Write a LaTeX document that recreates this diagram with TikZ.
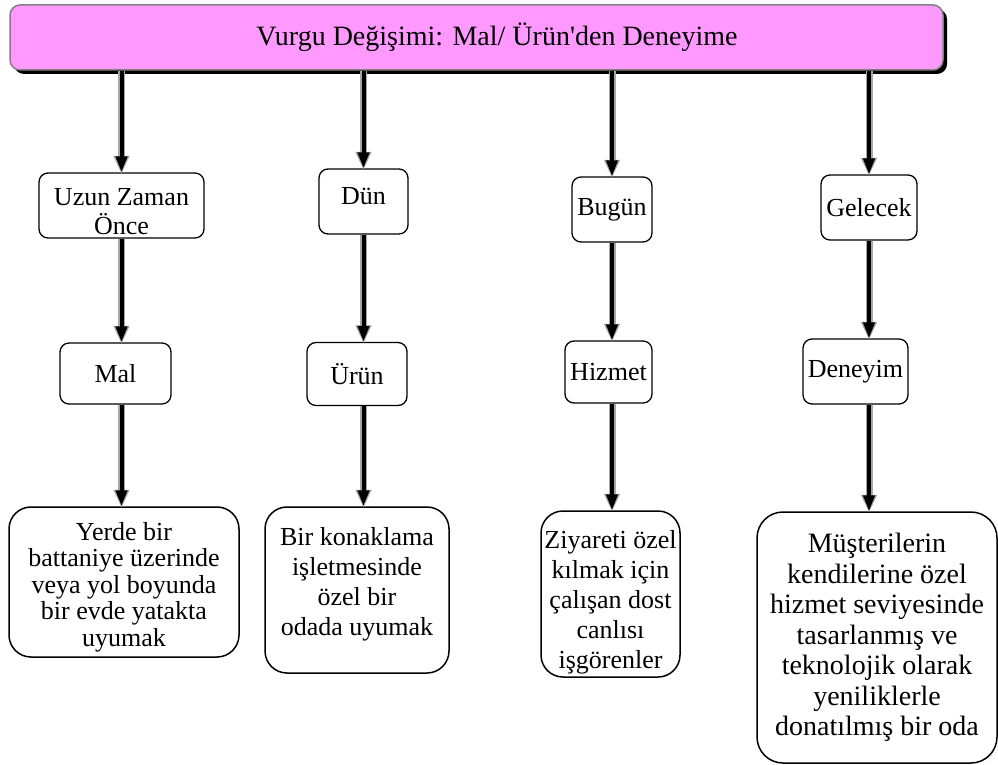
\documentclass[tikz,border=0pt]{standalone}
\usepackage{fontspec}
\setmainfont{Liberation Serif}
\usetikzlibrary{arrows.meta,shadows}
\definecolor{titlepink}{RGB}{255,153,255}
\tikzset{
	stage/.style={draw, line width=1.3pt, rounded corners=9pt, inner sep=2pt, align=center, font=\fontsize{26}{29}\selectfont},
	example/.style={draw, line width=1.5pt, rounded corners=22pt, inner sep=4pt, align=center, font=\fontsize{26}{30}\selectfont},
	flow/.style={line width=4pt, -{Triangle[length=16pt,width=11pt]},
		preaction={draw=gray!70, line width=7pt, shorten >=-1.5pt, -{Triangle[length=18pt,width=15pt]}}},
}
\begin{document}
\begin{tikzpicture}[x=1pt, y=-1pt]
	\useasboundingbox (0,0) rectangle (998,765);
	% Title
	\node[draw=gray, line width=1.5pt, fill=titlepink, rounded corners=10pt, minimum width=933pt, minimum height=65pt,
		drop shadow={shadow xshift=4pt, shadow yshift=-4pt, fill=black, opacity=1},
		font=\fontsize{28}{30}\selectfont] (title) at (476.5,37.5) {\hspace*{41pt}Vurgu Değişimi: Mal/ Ürün\textquotesingle den Deneyime};
	% Periods
	\node[stage, minimum width=165pt, minimum height=65pt] (uzun) at (121.5,205.5) {\rule{0pt}{30pt}Uzun Zaman\\Önce};
	\node[stage, minimum width=89pt, minimum height=65pt] (dun) at (363.5,201.5) {Dün\rule[-12pt]{0pt}{0pt}};
	\node[stage, minimum width=80pt, minimum height=65pt] (bugun) at (612,209.5) {Bugün};
	\node[stage, minimum width=96pt, minimum height=65pt] (gelecek) at (869,207.5) {Gelecek};
	% Offers
	\node[stage, minimum width=111pt, minimum height=61pt] (mal) at (115.5,373.5) {Mal};
	\node[stage, minimum width=100pt, minimum height=63pt] (urun) at (357,374) {Ürün};
	\node[stage, minimum width=87pt, minimum height=62pt] (hizmet) at (608.5,372) {Hizmet};
	\node[stage, minimum width=105pt, minimum height=65pt] (deneyim) at (855.5,371.5) {Deneyim};
	% Examples
	\node[example, inner sep=0pt, font=\fontsize{26}{26.5}\selectfont] (yerde) at (124,582) {\parbox[c][150pt][t]{230pt}{\centering\vspace*{15pt}Yerde bir\\battaniye üzerinde\\veya yol boyunda\\bir evde yatakta\\uyumak}};
	\node[example, minimum width=184pt, minimum height=166pt] (oda) at (357,590) {Bir konaklama\\işletmesinde\\özel bir\\odada uyumak\rule[-18pt]{0pt}{0pt}};
	\node[example, minimum width=139pt, minimum height=166pt, inner sep=2pt] (ziyaret) at (610.5,594) {\rule{0pt}{34pt}Ziyareti özel\\kılmak için\\çalışan dost\\canlısı\\işgörenler};
	\node[example, minimum width=240pt, minimum height=251pt, rounded corners=26pt, font=\fontsize{28}{30.5}\selectfont] (musteri) at (877,637.5) {Müşterilerin\\kendilerine özel\\hizmet seviyesinde\\tasarlanmış ve\\teknolojik olarak\\yeniliklerle\\donatılmış bir oda};
	% Arrows
	\foreach \t/\p/\e in {uzun/mal/yerde, dun/urun/oda, bugun/hizmet/ziyaret, gelecek/deneyim/musteri} {
		\draw[flow] (title.south -| \t.north) -- (\t.north);
		\draw[flow] (\t.south) -- (\t.south |- \p.north);
		\draw[flow] (\p.south -| \t.south) -- (\t.south |- \e.north);
	}
\end{tikzpicture}
\end{document}
